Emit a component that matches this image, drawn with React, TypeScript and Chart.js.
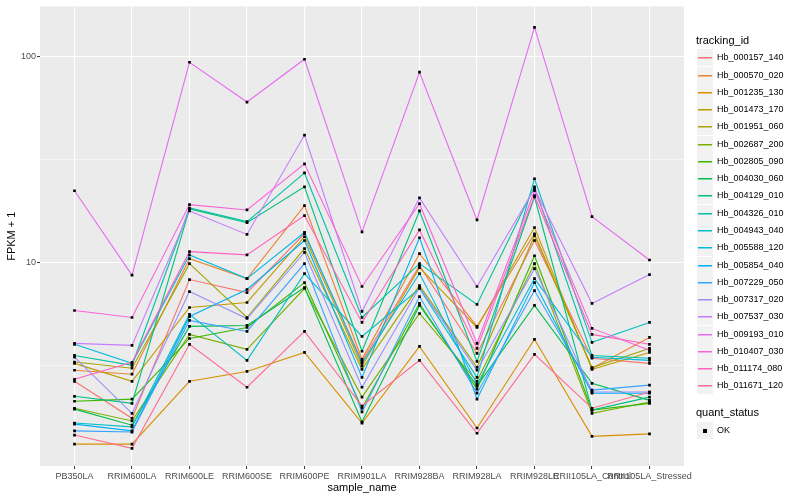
import React, { useEffect, useRef } from "react";
import { Chart, registerables } from "chart.js";
Chart.register(...registerables);

const categories = [
  "PB350LA", "RRIM600LA", "RRIM600LE", "RRIM600SE", "RRIM600PE", "RRIM901LA",
  "RRIM928BA", "RRIM928LA", "RRIM928LE", "RRII105LA_Control", "RRII105LA_Stressed",
];

const trackingIds = [
  "Hb_000157_140", "Hb_000570_020", "Hb_001235_130", "Hb_001473_170", "Hb_001951_060",
  "Hb_002687_200", "Hb_002805_090", "Hb_004030_060", "Hb_004129_010", "Hb_004326_010",
  "Hb_004943_040", "Hb_005588_120", "Hb_005854_040", "Hb_007229_050", "Hb_007317_020",
  "Hb_007537_030", "Hb_009193_010", "Hb_010407_030", "Hb_011174_080", "Hb_011671_120",
];

const colors = [
  "#F8766D", "#EA8331", "#D89000", "#C09B00", "#A3A500", "#7CAE00", "#39B600", "#00BB4E",
  "#00BF7D", "#00C1A3", "#00BFC4", "#00BAE0", "#00B0F6", "#35A2FF", "#9590FF", "#C77CFF",
  "#E76BF3", "#FA62DB", "#FF62BC", "#FF6C91",
];

// FPKM + 1 values per tracking id, in category order
const hb000157 = [2.66, 1.76, 8.28, 7.16, 13.8, 3.32, 9.67, 3.63, 12.8, 3.44, 3.25];
const hb000570 = [3.01, 2.88, 10.45, 8.37, 18.9, 3.4, 11.05, 4.91, 13.8, 3.08, 4.34];
const hb001235 = [1.32, 1.32, 2.66, 2.97, 3.67, 1.67, 3.93, 1.58, 4.25, 1.44, 1.48];
const hb001473 = [3.25, 2.66, 6.06, 6.41, 13.35, 3.15, 9.46, 4.85, 14.8, 3.04, 3.67];
const hb001951 = [3.3, 3.08, 9.89, 5.42, 11.7, 3.04, 7.74, 3.11, 13.5, 3.1, 3.84];
const hb002687 = [1.97, 1.71, 4.49, 3.8, 7.49, 2.23, 5.67, 2.66, 9.89, 1.86, 2.11];
const hb002805 = [2.13, 2.18, 4.29, 4.85, 8.0, 1.97, 6.34, 2.44, 10.8, 1.93, 2.08];
const hb004030 = [1.95, 1.63, 4.91, 4.96, 7.57, 1.69, 6.2, 2.52, 6.2, 2.6, 2.15];
const hb004129 = [2.25, 2.08, 18.2, 15.6, 23.3, 3.72, 17.8, 3.32, 20.8, 1.93, 2.23];
const hb004326 = [3.55, 3.18, 18.4, 15.8, 27.2, 5.42, 9.89, 6.27, 23.3, 3.55, 3.44];
const hb004943 = [1.67, 1.6, 5.61, 3.36, 8.85, 4.39, 7.49, 2.78, 25.5, 4.11, 5.13];
const hb005588 = [4.02, 3.25, 10.9, 8.37, 14.0, 3.25, 8.85, 2.57, 8.37, 3.48, 3.36];
const hb005854 = [1.65, 1.53, 5.48, 7.41, 12.8, 2.78, 13.2, 2.18, 8.0, 2.33, 2.33];
const hb007229 = [1.53, 1.51, 5.25, 4.64, 9.89, 1.89, 6.85, 2.33, 7.32, 2.41, 2.55];
const hb007317 = [3.48, 1.86, 7.24, 5.36, 11.2, 2.49, 7.57, 3.01, 9.35, 2.36, 2.36];
const hb007537 = [4.06, 3.97, 17.8, 13.7, 41.5, 5.8, 20.6, 7.66, 22.8, 6.34, 8.75];
const hb009193 = [22.3, 8.7, 93.5, 60, 96.7, 14.1, 83.7, 16.1, 138, 16.7, 10.3];
const hb010407 = [5.86, 5.42, 19.1, 18.0, 30.1, 7.66, 19.3, 4.06, 22.3, 4.8, 3.76];
const hb011174 = [2.72, 3.29, 11.3, 10.9, 16.9, 5.13, 14.4, 3.84, 21.1, 4.49, 4.02];
const hb011671 = [1.46, 1.26, 4.02, 2.49, 4.64, 2.02, 3.36, 1.49, 3.59, 1.97, 2.36];

const seriesValues = [
  hb000157, hb000570, hb001235, hb001473, hb001951, hb002687, hb002805, hb004030,
  hb004129, hb004326, hb004943, hb005588, hb005854, hb007229, hb007317, hb007537,
  hb009193, hb010407, hb011174, hb011671,
];

const yTickValues = [3.1623, 10, 31.623, 100];
const yMajorTicks = [10, 100];
const yMin = 1.034;
const yMax = 174.4;

const FONT = "'Liberation Sans', Arial, Helvetica, sans-serif";

export default function App() {
  const ref = useRef<HTMLCanvasElement>(null);

  useEffect(() => {
    document.body.style.margin = "0";
    const canvas = ref.current;
    if (!canvas) return;

    const lineSets = seriesValues.map((vals, i) => ({
      label: trackingIds[i],
      data: vals.map((v, j) => ({ x: j, y: v })),
      borderColor: colors[i],
      backgroundColor: colors[i],
      borderWidth: 1.1,
      pointRadius: 0,
      showLine: true,
      fill: false,
      tension: 0,
      order: 100 - i,
    }));
    const pointSets = seriesValues.map((vals, i) => ({
      label: trackingIds[i] + " OK",
      data: vals.map((v, j) => ({ x: j, y: v })),
      showLine: false,
      pointStyle: "rect" as const,
      pointRadius: 1.9,
      pointBackgroundColor: "#000000",
      pointBorderColor: "#000000",
      pointBorderWidth: 0,
      order: 0,
    }));

    const panelBg = {
      id: "panelBg",
      beforeDraw(chart: any) {
        const { ctx, chartArea: a } = chart;
        ctx.save();
        ctx.fillStyle = "#EBEBEB";
        ctx.fillRect(a.left, a.top, a.right - a.left, a.bottom - a.top);
        ctx.restore();
      },
    };

    const isMajorY = (v: number) => yMajorTicks.some((m) => Math.abs(m - v) < 1e-6);

    const chart = new Chart(canvas, {
      type: "scatter",
      data: { datasets: [...lineSets, ...pointSets] as any },
      options: {
        animation: false,
        responsive: false,
        maintainAspectRatio: false,
        layout: { padding: { left: 0, right: 116, top: 5, bottom: 0 } },
        plugins: { legend: { display: false }, tooltip: { enabled: false } },
        scales: {
          x: {
            type: "linear",
            min: -0.6,
            max: 10.6,
            afterBuildTicks: (s: any) => {
              s.ticks = categories.map((_, i) => ({ value: i }));
            },
            afterFit: (s: any) => {
              s.height = 34;
            },
            ticks: {
              callback: (v: any) => categories[v as number] ?? "",
              autoSkip: false,
              maxRotation: 0,
              minRotation: 0,
              color: "#4D4D4D",
              font: { family: FONT, size: 9 },
              padding: 2,
            },
            grid: {
              color: "#FFFFFF",
              lineWidth: 1.1,
              tickColor: "#333333",
              tickLength: 3,
              tickWidth: 1,
            },
            border: { display: false },
            title: {
              display: true,
              text: "sample_name",
              color: "#000000",
              font: { family: FONT, size: 11 },
              padding: { top: 0, bottom: 5 },
            },
          },
          y: {
            type: "logarithmic",
            min: yMin,
            max: yMax,
            afterBuildTicks: (s: any) => {
              s.ticks = yTickValues.map((v) => ({ value: v }));
            },
            afterFit: (s: any) => {
              s.width = 40;
            },
            ticks: {
              callback: (v: any) => (isMajorY(v as number) ? String(v) : ""),
              autoSkip: false,
              color: "#4D4D4D",
              font: { family: FONT, size: 9 },
              padding: 1,
            },
            grid: {
              color: "#FFFFFF",
              lineWidth: (ctx: any) => (ctx.tick && isMajorY(ctx.tick.value) ? 1.1 : 0.55),
              tickColor: (ctx: any) =>
                ctx.tick && isMajorY(ctx.tick.value) ? "#333333" : "rgba(0,0,0,0)",
              tickLength: 3,
              tickWidth: 1,
            },
            border: { display: false },
            title: {
              display: true,
              text: "FPKM + 1",
              color: "#000000",
              font: { family: FONT, size: 11 },
              padding: { top: 5, bottom: 0 },
            },
          },
        },
      },
      plugins: [panelBg],
    });

    return () => chart.destroy();
  }, []);

  const itemStart = 57.3;
  const itemStep = 17.27;

  return (
    <div style={{ position: "relative", width: 800, height: 500, fontFamily: FONT }}>
      <canvas ref={ref} width={800} height={500} style={{ display: "block" }} />
      <div
        style={{
          position: "absolute", left: 696, top: 34, fontSize: 11, lineHeight: "13px",
          color: "#000", whiteSpace: "nowrap",
        }}
      >
        tracking_id
      </div>
      {trackingIds.map((id, i) => {
        const cy = Math.round(itemStart + i * itemStep);
        return (
          <div key={id}>
            <div
              style={{
                position: "absolute", left: 697, top: cy - 8, width: 16, height: 17,
                background: "#F2F2F2",
              }}
            />
            <div
              style={{
                position: "absolute", left: 698, top: cy, width: 14, height: 1,
                background: colors[i],
                boxShadow: `0 0.5px 0 ${colors[i]}`,
              }}
            />
            <div
              style={{
                position: "absolute", left: 717, top: cy - 6, fontSize: 9, lineHeight: "12px",
                color: "#000", whiteSpace: "nowrap",
              }}
            >
              {id}
            </div>
          </div>
        );
      })}
      <div
        style={{
          position: "absolute", left: 696, top: 406, fontSize: 11, lineHeight: "13px",
          color: "#000", whiteSpace: "nowrap",
        }}
      >
        quant_status
      </div>
      <div
        style={{
          position: "absolute", left: 697, top: 422, width: 16, height: 17,
          background: "#F2F2F2",
        }}
      />
      <div
        style={{
          position: "absolute", left: 703, top: 429, width: 4, height: 4, background: "#000",
        }}
      />
      <div
        style={{
          position: "absolute", left: 717, top: 424, fontSize: 9, lineHeight: "12px",
          color: "#000", whiteSpace: "nowrap",
        }}
      >
        OK
      </div>
    </div>
  );
}
